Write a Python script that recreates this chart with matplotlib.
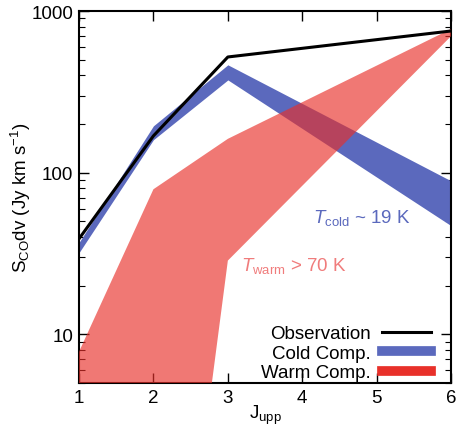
import matplotlib
matplotlib.use("Agg")
import matplotlib.pyplot as plt
from matplotlib.lines import Line2D
from matplotlib.ticker import LogLocator, NullFormatter, FixedLocator

plt.rcParams['font.family'] = ['Liberation Sans', 'DejaVu Sans']
plt.rcParams['mathtext.fontset'] = 'custom'
plt.rcParams['mathtext.rm'] = 'Liberation Sans'
plt.rcParams['mathtext.it'] = 'Liberation Sans:italic'

# Data
j_obs = [1, 2, 3, 6]
obs_flux = [39, 169, 520, 753]

j_cold = [1, 2, 3, 6]
cold_low = [32, 160, 375, 47]
cold_high = [37, 195, 465, 89]

j_warm = [1, 2, 3, 6]
warm_low = [0.001, 0.0085, 28.6, 700]
warm_high = [7.8, 79, 162, 775]

xticks = [1, 2, 3, 4, 5, 6]

fs = 13.5
fig = plt.figure(figsize=(4.58, 4.31), dpi=100)
ax = fig.add_axes([0.1725, 0.109, 0.8125, 0.863])

cold_col = '#5b69bd'
warm_col = '#e8302a'

ax.fill_between(j_cold, cold_low, cold_high, color=cold_col, lw=0, zorder=2)
ax.fill_between(j_warm, warm_low, warm_high, color=warm_col, alpha=0.65, lw=0, zorder=3)
ax.plot(j_obs, obs_flux, color='black', lw=2.2, zorder=4)

ax.set_yscale('log')
ax.set_xlim(1, 6)
ax.set_ylim(5, 1000)
ax.xaxis.set_major_locator(FixedLocator(xticks))
ax.yaxis.set_minor_locator(LogLocator(base=10, subs=range(2, 10), numticks=20))
ax.yaxis.set_minor_formatter(NullFormatter())
ax.set_yticks([10, 100, 1000])
ax.set_yticklabels(['10', '100', '1000'])
ax.set_xticklabels([str(x) for x in xticks])

ax.tick_params(which='major', direction='in', length=7, width=1, top=True, right=True, labelsize=fs, pad=4)
ax.tick_params(which='minor', direction='in', length=4, width=0.8, top=True, right=True)
for s in ax.spines.values():
    s.set_linewidth(1.5)

ax.set_xlabel(r'J$_{\mathrm{upp}}$', fontsize=fs, labelpad=-2)
ax.set_ylabel(r'S$_{\mathrm{CO}}$dv (Jy km s$^{\mathrm{-1}}$)', fontsize=fs, labelpad=-1)

ax.text(0.761, 0.446, r'$T_{\mathrm{cold}}$ ~ 19 K', transform=ax.transAxes, color='#5b69bd',
        fontsize=fs, ha='center', va='center', zorder=5)
ax.text(0.578, 0.317, r'$T_{\mathrm{warm}}$ > 70 K', transform=ax.transAxes, color='#f07c7c',
        fontsize=fs, ha='center', va='center', zorder=5)

handles = [Line2D([], [], color='black', lw=2.2),
           Line2D([], [], color=cold_col, lw=7),
           Line2D([], [], color=warm_col, lw=7)]
labels = ['Observation', 'Cold Comp.', 'Warm Comp.']
ax.legend(handles, labels, loc='lower right', frameon=False, markerfirst=False,
          fontsize=fs, handlelength=2.6, handletextpad=0.6, labelspacing=0.13,
          borderaxespad=0.0, bbox_to_anchor=(0.966, -0.016))

fig.savefig('out.png', dpi=100)
